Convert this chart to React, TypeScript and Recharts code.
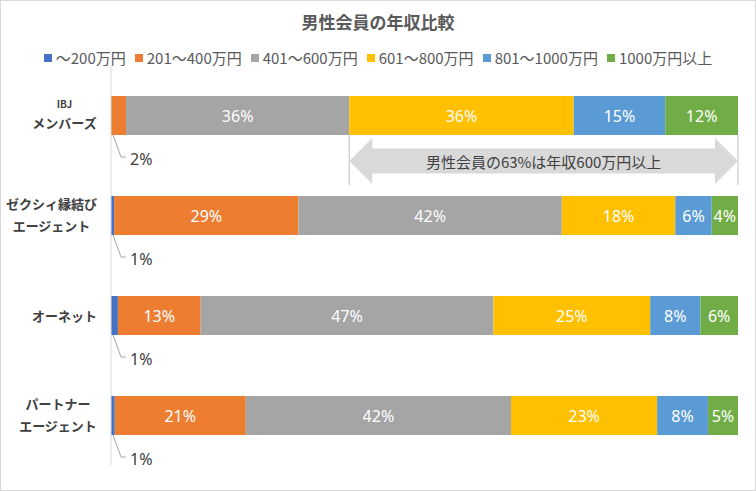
import React from "react";
import { BarChart, Bar, XAxis, YAxis, LabelList, ReferenceArea } from "recharts";

const categories = [
  "IBJ\nメンバーズ",
  "ゼクシィ縁結び\nエージェント",
  "オーネット",
  "パートナー\nエージェント",
];
const seriesNames = [
  "～200万円",
  "201～400万円",
  "401～600万円",
  "601～800万円",
  "801～1000万円",
  "1000万円以上",
];
const under200 = [0, 0.5, 1.1, 0.6];
const from201to400 = [2.4, 29.4, 13.2, 20.9];
const from401to600 = [35.6, 42.0, 46.7, 42.3];
const from601to800 = [35.8, 18.1, 25.0, 23.3];
const from801to1000 = [14.6, 5.8, 8.0, 8.1];
const over1000 = [11.6, 4.2, 6.0, 4.8];

const title = "男性会員の年収比較";
const note = "男性会員の63%は年収600万円以上";

const colors = ["#4472C4", "#ED7D31", "#A5A5A5", "#FFC000", "#5B9BD5", "#70AD47"];
const keys = ["s0", "s1", "s2", "s3", "s4", "s5"];
const series = [under200, from201to400, from401to600, from601to800, from801to1000, over1000];

const data = categories.map((name, i) => {
  const row: Record<string, string | number> = { name };
  keys.forEach((k, j) => (row[k] = series[j][i]));
  return row;
});

// the arrow starts where the 600万円+ part of the IBJ bar starts
const noteFrom = under200[0] + from201to400[0] + from401to600[0];

const jp = "'Noto Sans CJK JP', sans-serif";
const num = "'Noto Sans', 'Noto Sans CJK JP', sans-serif";

const textWidth = (s: string, size: number) =>
  [...s].reduce((w, c) => w + (c.charCodeAt(0) < 128 ? size * 0.6 : size), 0);

const CategoryTick = (props: any) => {
  const { y, payload } = props;
  const lines: string[] = String(payload.value).split("\n");
  const sizes = lines.map((l) => (/^[\x00-\x7f]+$/.test(l) ? 10 : 13));
  const blockW = Math.max(...lines.map((l, i) => textWidth(l, sizes[i])));
  const cx = 97 - blockW / 2;
  const gap = sizes[0] < 13 ? 19 : 22;
  const top = lines.length > 1 ? y - 12 : y;
  return (
    <g>
      {lines.map((l, i) => (
        <text
          key={i}
          x={cx}
          y={top + i * gap}
          textAnchor="middle"
          dominantBaseline="central"
          fontFamily={jp}
          fontWeight="bold"
          fontSize={sizes[i]}
          fill="#404040"
        >
          {l}
        </text>
      ))}
    </g>
  );
};

const SegmentLabel = (props: any) => {
  const x = Number(props.x);
  const y = Number(props.y);
  const width = Number(props.width);
  const height = Number(props.height);
  const value = Number(props.value);
  if (!value) return null;
  const txt = `${Math.round(value)}%`;
  if (value < 3) {
    const x0 = x + 2;
    const yb = y + height;
    return (
      <g>
        <path
          d={`M${x0},${yb} L${x0 + 8},${yb + 22} L${x0 + 13},${yb + 22}`}
          stroke="#a6a6a6"
          fill="none"
        />
        <text
          x={x0 + 17}
          y={yb + 24}
          dominantBaseline="central"
          fontFamily={num}
          fontSize={16}
          fill="#404040"
        >
          {txt}
        </text>
      </g>
    );
  }
  return (
    <text
      x={x + width / 2}
      y={y + height / 2}
      textAnchor="middle"
      dominantBaseline="central"
      fontFamily={num}
      fontSize={16}
      fill="#ffffff"
    >
      {txt}
    </text>
  );
};

const NoteArrow = (props: any) => {
  const { x, y, width, height } = props;
  const yc = y + height - 4;
  const l = x;
  const r = x + width;
  const head = 23;
  const hh = 23;
  const bh = 12.5;
  const pts = [
    [l, yc],
    [l + head, yc - hh],
    [l + head, yc - bh],
    [r - head, yc - bh],
    [r - head, yc - hh],
    [r, yc],
    [r - head, yc + hh],
    [r - head, yc + bh],
    [l + head, yc + bh],
    [l + head, yc + hh],
  ]
    .map((p) => p.join(","))
    .join(" ");
  return (
    <g>
      <line x1={l} x2={l} y1={yc - 26} y2={yc + 24} stroke="#bfbfbf" />
      <line x1={r} x2={r} y1={yc - 26} y2={yc + 24} stroke="#bfbfbf" />
      <polygon points={pts} fill="#d9d9d9" />
      <text
        x={(l + r) / 2}
        y={yc}
        textAnchor="middle"
        dominantBaseline="central"
        fontFamily={jp}
        fontSize={15}
        fill="#404040"
      >
        {note}
      </text>
    </g>
  );
};

export default function App() {
  return (
    <div
      style={{
        position: "absolute",
        left: 0,
        top: 0,
        width: 756,
        height: 491,
        background: "#fff",
        fontFamily: jp,
      }}
    >
      <div
        style={{
          position: "absolute",
          top: 10,
          left: 0,
          width: 756,
          textAlign: "center",
          fontSize: 17,
          fontWeight: "bold",
          color: "#595959",
          lineHeight: "24px",
        }}
      >
        {title}
      </div>
      <div
        style={{
          position: "absolute",
          top: 48,
          left: 0,
          width: 756,
          display: "flex",
          justifyContent: "center",
          gap: 9,
          fontSize: 15,
          color: "#595959",
          lineHeight: "20px",
        }}
      >
        {seriesNames.map((s, i) => (
          <div key={s} style={{ display: "flex", alignItems: "center", gap: 4 }}>
            <span style={{ width: 8, height: 8, background: colors[i], display: "inline-block" }} />
            <span>{s}</span>
          </div>
        ))}
      </div>
      <BarChart
        width={756}
        height={491}
        data={data}
        layout="vertical"
        margin={{ top: 65, right: 18, bottom: 26, left: 1 }}
      >
        <XAxis type="number" domain={[0, 100]} hide />
        <YAxis
          type="category"
          dataKey="name"
          width={110}
          tickLine={false}
          axisLine={{ stroke: "#d9d9d9" }}
          interval={0}
          tick={<CategoryTick />}
        />
        {keys.map((k, i) => (
          <Bar
            key={k}
            dataKey={k}
            name={seriesNames[i]}
            stackId="a"
            fill={colors[i]}
            barSize={39}
            isAnimationActive={false}
          >
            <LabelList dataKey={k} content={<SegmentLabel />} />
          </Bar>
        ))}
        <ReferenceArea
          x1={noteFrom}
          x2={100}
          y1={categories[0]}
          y2={categories[0]}
          ifOverflow="visible"
          shape={<NoteArrow />}
        />
      </BarChart>
      <div
        style={{
          position: "absolute",
          inset: 0,
          border: "1px solid #d9d9d9",
          pointerEvents: "none",
        }}
      />
    </div>
  );
}
